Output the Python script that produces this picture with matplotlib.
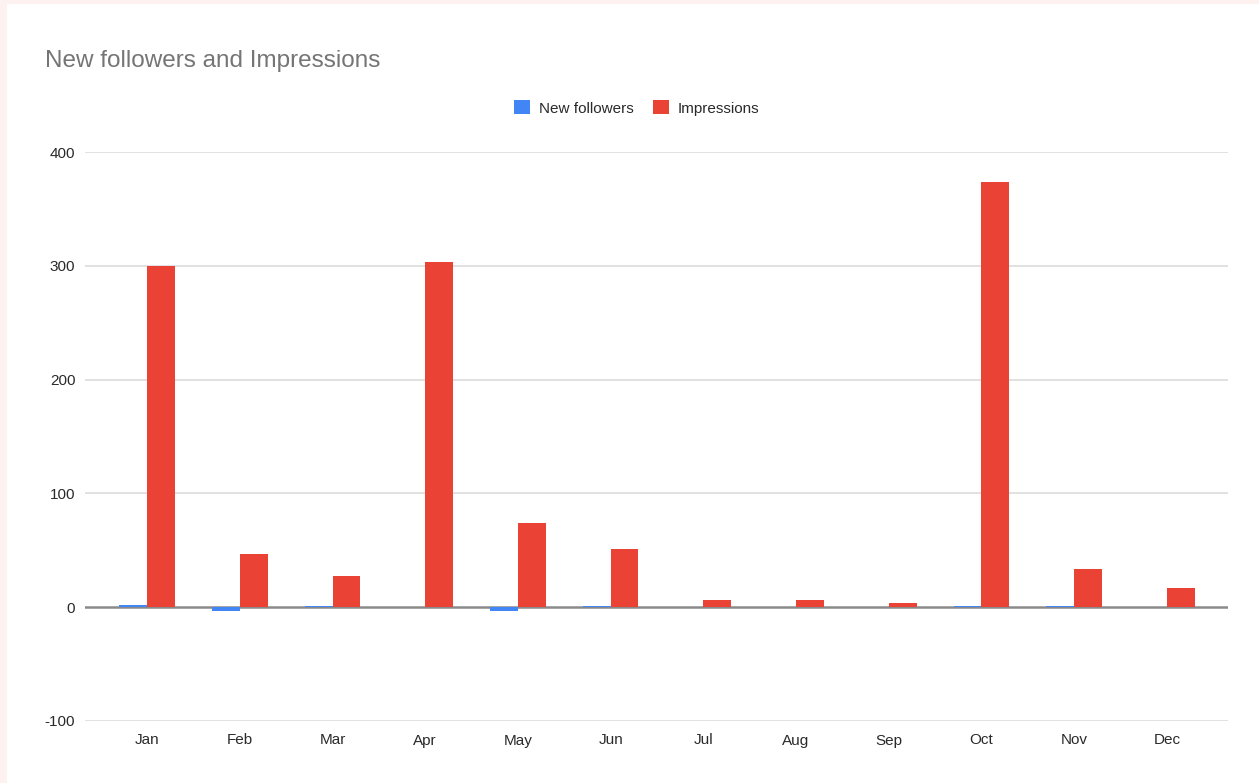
#!/usr/bin/env python3
"""New followers and Impressions per month, Google-Sheets style bar chart."""

import matplotlib

matplotlib.use("Agg")
import matplotlib.pyplot as plt
import numpy as np
from matplotlib.patches import Patch, Rectangle

months = ["Jan", "Feb", "Mar", "Apr", "May", "Jun",
          "Jul", "Aug", "Sep", "Oct", "Nov", "Dec"]
new_followers = [2, -3, 1, 0, -3, 1, 0, 0, 0, 1, 1, 0]
impressions = [300, 47, 27, 303, 74, 51, 6, 6, 4, 374, 34, 17]
y_ticks = [-100, 0, 100, 200, 300, 400]

BLUE = "#4285f4"
RED = "#ea4335"
W, H = 1259, 783

plt.rcParams["font.family"] = ["Liberation Sans", "DejaVu Sans"]
plt.rcParams["axes.unicode_minus"] = False

fig = plt.figure(figsize=(W / 100, H / 100), dpi=100)
fig.patch.set_facecolor("#fdf2f0")
# white card, pink strip only on left and top
fig.add_artist(Rectangle((7 / W, 0), 1 - 7 / W, 1 - 4 / H,
                         transform=fig.transFigure, facecolor="white",
                         edgecolor="none", zorder=0))

ax = fig.add_axes([85 / W, 1 - 721 / H, (1228 - 85) / W, (721 - 152) / H])
ax.set_facecolor("none")

x = np.arange(len(months))
bw = 0.30
ax.bar(x - bw / 2, new_followers, width=bw, color=BLUE, zorder=5)
ax.bar(x + bw / 2, impressions, width=bw, color=RED, zorder=5)

ax.set_xlim(-0.67, 11.66)
ax.set_ylim(-100, 400)
ax.set_yticks(y_ticks)
ax.set_xticks(x)
ax.set_xticklabels(months)
ax.tick_params(axis="both", length=0, labelsize=11, labelcolor="#2a2a2a")
ax.tick_params(axis="y", pad=7)
ax.tick_params(axis="x", pad=9)

for t in y_ticks:
    if t == 0:
        continue
    ax.axhline(t, color="#dcdcdc", linewidth=1.2, zorder=1)
ax.axhline(0, color="#8a8a8a", linewidth=1.8, zorder=4)

for s in ax.spines.values():
    s.set_visible(False)

fig.text(45 / W, 1 - 67 / H, "New followers and Impressions",
         fontsize=17.5, color="#757575", va="baseline", ha="left")

handles = [Patch(facecolor=BLUE, label="New followers"),
           Patch(facecolor=RED, label="Impressions")]
fig.legend(handles=handles, loc="center", bbox_to_anchor=(637 / W, 1 - 108 / H),
           ncol=2, frameon=False, fontsize=11, handlelength=1.0,
           handleheight=1.0, handletextpad=0.6, columnspacing=1.3,
           labelcolor="#2a2a2a")

fig.savefig("out.png", dpi=100, facecolor=fig.get_facecolor())
